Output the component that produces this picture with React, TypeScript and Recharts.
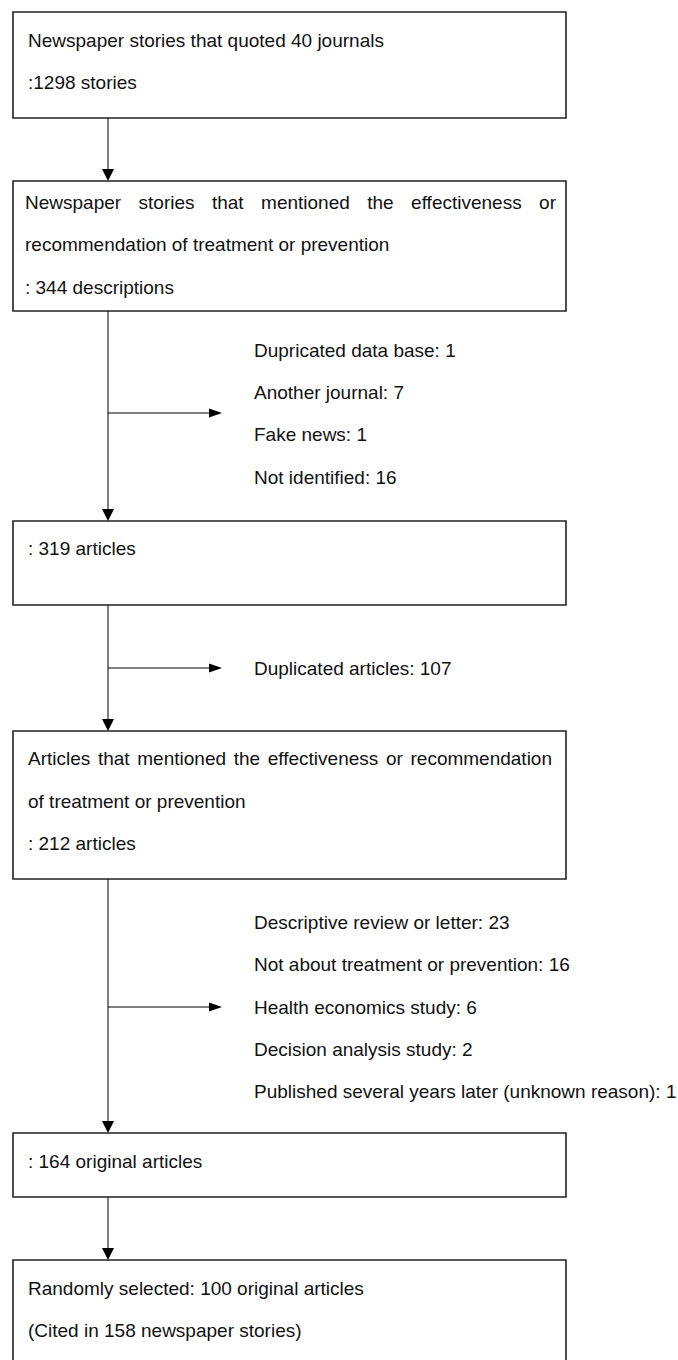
import {
  ComposedChart,
  ReferenceArea,
  ReferenceLine,
  Scatter,
  XAxis,
  YAxis,
} from "recharts";

const W = 678;
const H = 1360;
const FONT = "'Liberation Sans', Arial, Helvetica, sans-serif";
const FONT_SIZE = 19;

// counts at each stage of the flow
const stageCounts = [1298, 344, 319, 212, 164, 100];
const citedStories = 158;
const journals = 40;

// exclusion reasons between stages
const exclusionsA: [string, number][] = [
  ["Dupricated data base", 1],
  ["Another journal", 7],
  ["Fake news", 1],
  ["Not identified", 16],
];
const exclusionsB: [string, number][] = [["Duplicated articles", 107]];
const exclusionsC: [string, number][] = [
  ["Descriptive review or letter", 23],
  ["Not about treatment or prevention", 16],
  ["Health economics study", 6],
  ["Decision analysis study", 2],
  ["Published several years later (unknown reason)", 1],
];

// box text, one array of lines per stage
const boxLines: string[][] = [
  [`Newspaper stories that quoted ${journals} journals`, `:${stageCounts[0]} stories`],
  [
    "Newspaper stories that mentioned the effectiveness or",
    "recommendation of treatment or prevention",
    `: ${stageCounts[1]} descriptions`,
  ],
  [`: ${stageCounts[2]} articles`],
  [
    "Articles that mentioned the effectiveness or recommendation",
    "of treatment or prevention",
    `: ${stageCounts[3]} articles`,
  ],
  [`: ${stageCounts[4]} original articles`],
  [
    `Randomly selected: ${stageCounts[5]} original articles`,
    `(Cited in ${citedStories} newspaper stories)`,
  ],
];

// layout (chart units = pixels)
const BOX_L = 13;
const BOX_R = 566;
const STEM_X = 108;
const ARROW_END = 222;
const NOTE_X = 254;
const boxTop = [12, 181, 521, 731, 1133, 1260];
const boxBottom = [118, 311, 605, 879, 1197, 1372];
const textX = [28, 25, 28, 28, 28, 28];
const lineY: number[][] = [
  [40, 82],
  [202, 244, 287],
  [548],
  [758, 801, 843],
  [1161],
  [1288, 1330],
];
// right edge for justified lines (stage, line) -> x
const justifyTo: Record<string, number> = { "1-0": 556, "3-0": 552 };
const noteY = [
  [350, 392, 434, 477],
  [668],
  [922, 964, 1007, 1049, 1091],
];
const branchY = [413, 668, 1007];

let measureCtx: CanvasRenderingContext2D | null = null;
function textWidth(s: string) {
  if (!measureCtx) measureCtx = document.createElement("canvas").getContext("2d");
  if (!measureCtx) return s.length * FONT_SIZE * 0.5;
  measureCtx.font = `${FONT_SIZE}px ${FONT}`;
  return measureCtx.measureText(s).width;
}

type Label = { x: number; y: number; text: string; x2?: number };

const labels: Label[] = [];
boxLines.forEach((lines, i) =>
  lines.forEach((text, j) =>
    labels.push({ x: textX[i], y: lineY[i][j], text, x2: justifyTo[`${i}-${j}`] })
  )
);
[exclusionsA, exclusionsB, exclusionsC].forEach((group, g) =>
  group.forEach(([name, n], j) =>
    labels.push({ x: NOTE_X, y: noteY[g][j], text: `${name}: ${n}` })
  )
);

const downHeads = boxTop.slice(1).map((y) => ({ x: STEM_X, y }));
const rightHeads = branchY.map((y) => ({ x: ARROW_END, y }));

const LabelShape = (props: any) => {
  const { cx, cy, payload } = props;
  let wordSpacing = 0;
  if (payload.x2) {
    const gaps = payload.text.split(" ").length - 1;
    const natural = textWidth(payload.text);
    wordSpacing = gaps > 0 ? (payload.x2 - payload.x - natural) / gaps : 0;
  }
  return (
    <text
      x={cx}
      y={cy}
      dominantBaseline="central"
      fontFamily={FONT}
      fontSize={FONT_SIZE}
      fill="#111"
      style={{ wordSpacing: `${wordSpacing}px` }}
    >
      {payload.text}
    </text>
  );
};

const DownHead = (props: any) => {
  const { cx, cy } = props;
  return <polygon points={`${cx - 6},${cy - 12} ${cx + 6},${cy - 12} ${cx},${cy}`} fill="#000" />;
};

const RightHead = (props: any) => {
  const { cx, cy } = props;
  return <polygon points={`${cx - 13},${cy - 4.5} ${cx - 13},${cy + 4.5} ${cx},${cy}`} fill="#000" />;
};

export default function App() {
  return (
    <div style={{ position: "absolute", left: 0, top: 0, width: W, height: H, background: "#fff" }}>
      <ComposedChart width={W} height={H} margin={{ top: 0, right: 0, bottom: 0, left: 0 }}>
        <XAxis type="number" dataKey="x" domain={[0, W]} hide allowDataOverflow />
        <YAxis type="number" dataKey="y" domain={[0, H]} reversed hide allowDataOverflow />

        {boxTop.slice(1).map((t, i) => (
          <ReferenceLine
            key={`stem-${i}`}
            segment={[
              { x: STEM_X, y: boxBottom[i] },
              { x: STEM_X, y: t - 10 },
            ]}
            stroke="#000"
            strokeWidth={1}
            ifOverflow="visible"
          />
        ))}
        {branchY.map((y, i) => (
          <ReferenceLine
            key={`branch-${i}`}
            segment={[
              { x: STEM_X, y },
              { x: ARROW_END - 10, y },
            ]}
            stroke="#000"
            strokeWidth={1}
            ifOverflow="visible"
          />
        ))}

        {boxTop.map((t, i) => (
          <ReferenceArea
            key={`box-${i}`}
            x1={BOX_L}
            x2={BOX_R}
            y1={t}
            y2={boxBottom[i]}
            fill="#fff"
            fillOpacity={1}
            stroke="#222"
            strokeWidth={1.6}
            ifOverflow="visible"
          />
        ))}

        <Scatter data={downHeads} shape={DownHead} isAnimationActive={false} />
        <Scatter data={rightHeads} shape={RightHead} isAnimationActive={false} />
        <Scatter data={labels} shape={LabelShape} isAnimationActive={false} />
      </ComposedChart>
    </div>
  );
}
